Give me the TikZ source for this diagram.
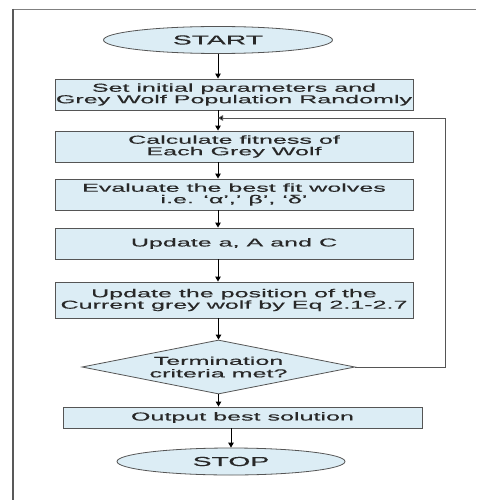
\documentclass[tikz,border=0pt]{standalone}
\usepackage{fontspec}
\usetikzlibrary{shapes.geometric,arrows.meta}
\newfontfamily\wolf[FakeStretch=2.18,FakeBold=0.3]{Liberation Sans}
\definecolor{boxfill}{RGB}{220,237,245}
\definecolor{boxline}{RGB}{85,85,85}
\definecolor{txt}{RGB}{40,40,40}
\tikzset{
  proc/.style={draw=boxline, fill=boxfill, line width=0.9pt, rectangle, inner sep=0pt,
    minimum width=358pt, minimum height=31pt, align=center, text=txt,
    font=\wolf\fontsize{11.5}{11.5}\selectfont},
  term/.style={draw=boxline, fill=boxfill, line width=0.8pt, ellipse, inner sep=0pt,
    minimum width=229pt, minimum height=27pt, text=txt,
    font=\wolf\fontsize{13}{13}\selectfont},
  arr/.style={draw=black, line width=1pt, -{Triangle[length=5pt,width=5.5pt]}},
  fb/.style={draw=boxline, line width=0.9pt, -{Triangle[length=5pt,width=5.5pt,fill=black]}}
}
\begin{document}
\begin{tikzpicture}[x=1pt,y=-1pt]
\useasboundingbox (0,0) rectangle (476,500);
\fill[white] (0,0) rectangle (476,500);
% outer frame
\draw[line width=0.8pt, draw=gray] (13,9) -- (476,9);
\draw[line width=2pt, draw=black!65] (13,9) -- (13,500);
% nodes
\node[term] (start) at (218,40) {START};
\node[proc] (b1) at (234,94.5) {Set initial parameters and\\Grey Wolf Population Randomly};
\node[proc] (b2) at (234,146.5) {Calculate fitness of\\Each Grey Wolf};
\node[proc] (b3) at (234,194.5) {Evaluate the best fit wolves\\i.e. ‘α’,’ β’, ‘δ’};
\node[proc] (b4) at (234,243.5) {Update a, A and C};
\node[proc, minimum height=36pt] (b5) at (234,300) {Update the position of the\\Current grey wolf by Eq 2.1-2.7};
\node[draw=boxline, fill=boxfill, line width=0.8pt, diamond, inner sep=0pt,
  minimum width=273pt, minimum height=54pt] (dec) at (218.5,367) {};
\node[text=txt, align=center, font=\wolf\fontsize{11.5}{12.5}\selectfont] (dect) at (dec.center) {Termination\\criteria met?};
\node[proc, minimum width=359pt, minimum height=21pt] (b6) at (242.5,417.5) {Output best solution};
\node[term, minimum width=228pt] (stop) at (231,461.5) {STOP};
\coordinate (fbr) at (445,118);
\coordinate (fbl) at (218,118);
% connectors
\draw[arr] (start.south) -- (start.south |- b1.north);
\draw[arr] (b1.south -| start.south) -- (b2.north -| start.south);
\draw[arr] (b2.south -| start.south) -- (b3.north -| start.south);
\draw[arr] (b3.south -| start.south) -- (b4.north -| start.south);
\draw[arr] (b4.south -| start.south) -- (b5.north -| start.south);
\draw[arr] (b5.south -| dec.north) -- (dec.north);
\draw[arr] (dec.south) -- (dec.south |- b6.north);
\draw[arr] (b6.south -| stop.north) -- (stop.north);
\draw[fb] (dec.east) -- (dec.east -| fbr) -- (fbr) -- (fbl);
\end{tikzpicture}
\end{document}
